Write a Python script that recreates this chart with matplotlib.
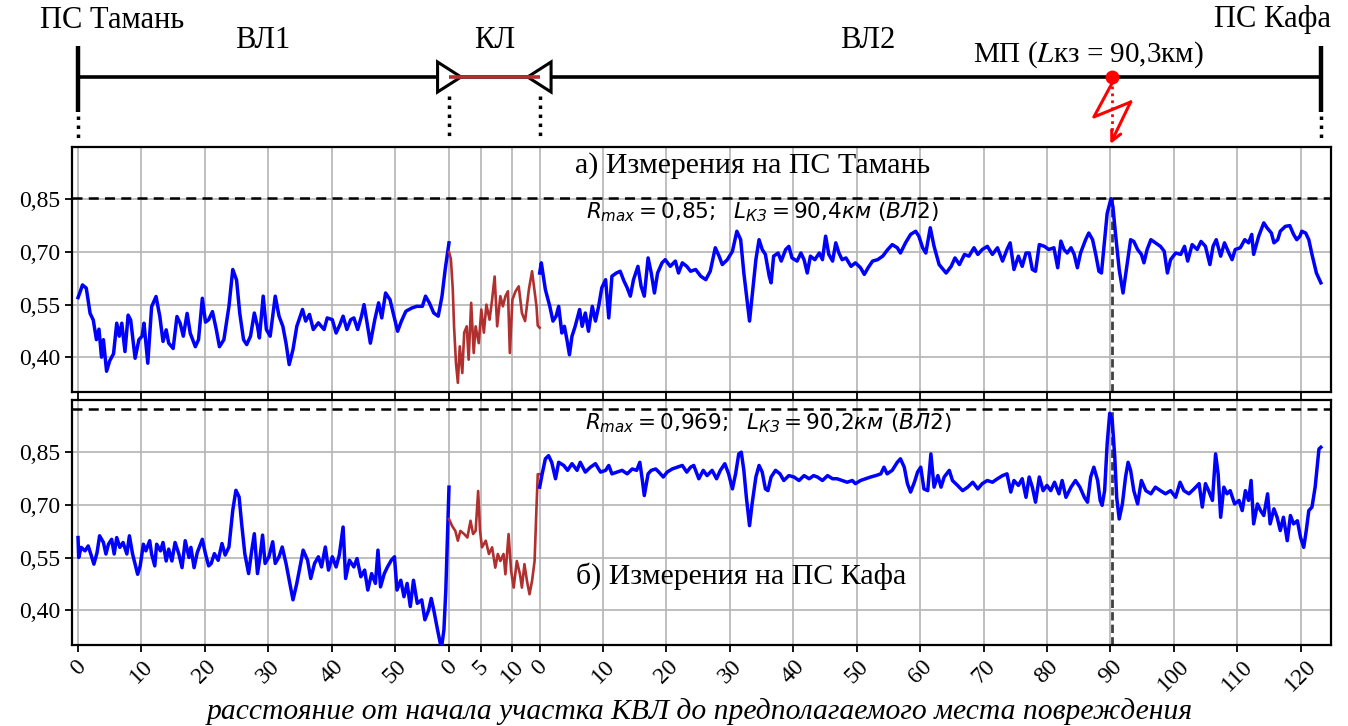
import matplotlib.pyplot as plt
from matplotlib.patches import Polygon

plt.rcParams['font.family'] = ['Liberation Serif', 'DejaVu Serif']

# section lengths, km
L_VL1 = 58.5
L_KL = 14.3
L_VL2 = 123.3
L_FAULT = 90.3

# a) measurements at PS Taman: (km from section start, R)
taman_vl1 = [(0.0, 0.57), (0.4, 0.59), (0.7, 0.606), (1.3, 0.597), (1.9, 0.525), (2.4, 0.506),
             (2.9, 0.45), (3.3, 0.48), (3.7, 0.40), (4.0, 0.45), (4.5, 0.36), (5.0, 0.39),
             (5.6, 0.41), (6.1, 0.497), (6.5, 0.46), (6.9, 0.497), (7.4, 0.416), (7.9, 0.52),
             (8.3, 0.506), (9.0, 0.397), (9.6, 0.45), (10.1, 0.46), (10.4, 0.497), (11.0, 0.383),
             (11.6, 0.544), (12.3, 0.573), (12.9, 0.516), (13.4, 0.445), (13.9, 0.478), (14.3, 0.44),
             (15.0, 0.425), (15.6, 0.516), (16.1, 0.497), (16.6, 0.46), (17.2, 0.525), (17.7, 0.468),
             (18.5, 0.43), (19.0, 0.45), (19.6, 0.568), (20.1, 0.50), (20.6, 0.507), (21.2, 0.53),
             (21.8, 0.479), (22.3, 0.43), (23.0, 0.45), (23.8, 0.545), (24.4, 0.65), (25.0, 0.62),
             (25.5, 0.526), (26.1, 0.45), (26.6, 0.436), (27.2, 0.46), (27.8, 0.526), (28.3, 0.488),
             (28.6, 0.455), (29.2, 0.574), (29.7, 0.479), (30.3, 0.46), (31.1, 0.574), (31.7, 0.517),
             (32.3, 0.488), (32.8, 0.44), (33.3, 0.379), (33.9, 0.422), (34.5, 0.488), (35.4, 0.536),
             (35.9, 0.503), (36.5, 0.522), (37.1, 0.479), (37.9, 0.498), (38.8, 0.479), (39.3, 0.512),
             (40.1, 0.507), (40.7, 0.469), (41.3, 0.493), (41.8, 0.517), (42.4, 0.479), (43.0, 0.507),
             (43.5, 0.512), (44.1, 0.479), (44.7, 0.517), (45.1, 0.55), (45.5, 0.507), (46.1, 0.44),
             (46.8, 0.507), (47.4, 0.555), (47.9, 0.512), (48.5, 0.583), (49.2, 0.564), (49.7, 0.526),
             (50.4, 0.474), (51.0, 0.503), (51.7, 0.531), (52.6, 0.54), (53.4, 0.545), (54.3, 0.545),
             (54.8, 0.574), (55.4, 0.555), (56.1, 0.526), (56.8, 0.517), (57.4, 0.574), (57.9, 0.65),
             (58.5, 0.726)]
taman_kl = [(0.0, 0.70), (0.3, 0.68), (0.6, 0.593), (0.8, 0.488), (1.1, 0.384), (1.4, 0.327),
            (1.7, 0.431), (2.1, 0.355), (2.4, 0.47), (2.8, 0.488), (3.1, 0.393), (3.5, 0.555),
            (3.9, 0.412), (4.2, 0.488), (4.7, 0.44), (5.1, 0.536), (5.5, 0.47), (5.9, 0.55),
            (6.4, 0.507), (6.8, 0.564), (7.2, 0.63), (7.6, 0.488), (8.1, 0.574), (8.5, 0.545),
            (8.9, 0.574), (9.3, 0.588), (9.6, 0.412), (10.0, 0.564), (10.5, 0.588), (11.0, 0.602),
            (11.5, 0.526), (12.0, 0.503), (12.6, 0.593), (13.1, 0.645), (13.8, 0.545), (14.0, 0.49),
            (14.3, 0.484)]
taman_vl2 = [(0.0, 0.64), (0.26, 0.669), (0.9, 0.593), (1.6, 0.545), (2.1, 0.503), (2.6, 0.517),
             (3.0, 0.545), (3.5, 0.469), (3.9, 0.488), (4.3, 0.45), (4.7, 0.407), (5.1, 0.46),
             (5.6, 0.488), (6.3, 0.536), (6.7, 0.488), (7.2, 0.526), (7.7, 0.474), (8.3, 0.545),
             (8.8, 0.503), (9.3, 0.545), (9.8, 0.598), (10.4, 0.621), (10.9, 0.512), (11.4, 0.631),
             (12.1, 0.64), (12.7, 0.645), (13.3, 0.617), (13.8, 0.598), (14.3, 0.574), (14.8, 0.621),
             (15.5, 0.659), (16.0, 0.602), (16.5, 0.574), (17.1, 0.683), (17.6, 0.64), (18.1, 0.583),
             (18.6, 0.64), (19.3, 0.669), (19.8, 0.678), (20.6, 0.659), (21.4, 0.674), (21.9, 0.64),
             (22.5, 0.669), (23.2, 0.659), (23.8, 0.645), (24.6, 0.65), (25.4, 0.631), (26.2, 0.621),
             (26.9, 0.645), (27.7, 0.712), (28.3, 0.688), (28.8, 0.664), (29.6, 0.678), (30.4, 0.702),
             (31.1, 0.759), (31.7, 0.735), (32.2, 0.64), (32.7, 0.564), (33.1, 0.503), (33.5, 0.574),
             (34.1, 0.678), (34.6, 0.735), (35.1, 0.707), (35.6, 0.693), (36.2, 0.631), (36.5, 0.612),
             (36.9, 0.688), (37.6, 0.697), (38.1, 0.674), (38.8, 0.707), (39.3, 0.716), (39.8, 0.683),
             (40.6, 0.674), (41.2, 0.697), (41.7, 0.678), (42.2, 0.64), (42.7, 0.688), (43.4, 0.678),
             (44.1, 0.697), (44.6, 0.678), (45.1, 0.745), (45.6, 0.693), (46.2, 0.674), (46.7, 0.726),
             (47.2, 0.697), (47.7, 0.678), (48.3, 0.683), (49.1, 0.659), (49.8, 0.669), (50.6, 0.655),
             (51.2, 0.636), (51.8, 0.655), (52.5, 0.674), (53.3, 0.678), (54.1, 0.688), (54.9, 0.707),
             (55.6, 0.721), (56.4, 0.712), (56.9, 0.697), (57.7, 0.726), (58.5, 0.75), (59.3, 0.759),
             (59.8, 0.745), (60.4, 0.712), (60.9, 0.697), (61.6, 0.769), (62.2, 0.716), (63.0, 0.664),
             (64.1, 0.64), (64.9, 0.659), (65.5, 0.683), (66.2, 0.664), (67.0, 0.693), (67.7, 0.688),
             (68.5, 0.712), (69.1, 0.693), (69.8, 0.707), (70.6, 0.716), (71.4, 0.693), (72.2, 0.712),
             (73.0, 0.674), (73.7, 0.707), (74.2, 0.726), (74.8, 0.65), (75.5, 0.688), (76.1, 0.659),
             (76.7, 0.697), (77.2, 0.697), (77.7, 0.65), (78.2, 0.645), (78.8, 0.721), (79.6, 0.716),
             (80.3, 0.707), (81.1, 0.712), (81.7, 0.655), (82.2, 0.731), (82.7, 0.707), (83.2, 0.697),
             (83.8, 0.712), (84.3, 0.693), (84.8, 0.655), (85.3, 0.697), (86.1, 0.735), (86.6, 0.754),
             (87.2, 0.735), (87.7, 0.693), (88.2, 0.645), (88.6, 0.64), (89.0, 0.716), (89.5, 0.81),
             (90.1, 0.852), (90.4, 0.83), (90.8, 0.754), (91.4, 0.65), (92.0, 0.583), (92.6, 0.659),
             (93.2, 0.735), (93.7, 0.73), (94.3, 0.707), (94.9, 0.693), (95.3, 0.669), (95.8, 0.707),
             (96.4, 0.735), (97.1, 0.726), (97.9, 0.716), (98.5, 0.702), (99.0, 0.64), (99.5, 0.678),
             (100.3, 0.697), (101.1, 0.693), (101.7, 0.716), (102.2, 0.674), (102.9, 0.721), (103.7, 0.707),
             (104.3, 0.73), (105.0, 0.716), (105.7, 0.664), (106.2, 0.716), (106.7, 0.735), (107.4, 0.688),
             (108.0, 0.726), (108.7, 0.697), (109.2, 0.678), (109.7, 0.707), (110.5, 0.712), (111.2, 0.735),
             (111.8, 0.726), (112.3, 0.75), (112.6, 0.693), (113.4, 0.745), (114.2, 0.783), (114.7, 0.769),
             (115.4, 0.754), (115.8, 0.726), (116.4, 0.735), (116.8, 0.759), (117.6, 0.773), (118.3, 0.775),
             (118.9, 0.75), (119.4, 0.735), (119.9, 0.745), (120.2, 0.759), (120.8, 0.754), (121.3, 0.735),
             (121.8, 0.693), (122.5, 0.64), (123.2, 0.612)]

# б) measurements at PS Kafa
kafa_vl1 = [(0.0, 0.607), (0.1, 0.55), (0.5, 0.579), (1.1, 0.569), (1.6, 0.583), (2.1, 0.555),
            (2.5, 0.531), (3.0, 0.564), (3.4, 0.612), (4.0, 0.593), (4.4, 0.56), (4.8, 0.588),
            (5.3, 0.602), (5.7, 0.56), (6.1, 0.607), (6.6, 0.579), (7.1, 0.593), (7.7, 0.56),
            (8.1, 0.612), (8.6, 0.56), (9.0, 0.531), (9.4, 0.502), (9.8, 0.526), (10.3, 0.588),
            (10.7, 0.569), (11.3, 0.598), (11.6, 0.56), (12.1, 0.526), (12.4, 0.588), (13.0, 0.569),
            (13.4, 0.593), (13.9, 0.54), (14.3, 0.574), (14.8, 0.54), (15.3, 0.593), (15.9, 0.56),
            (16.4, 0.521), (16.9, 0.598), (17.5, 0.55), (17.8, 0.579), (18.3, 0.521), (18.8, 0.564),
            (19.6, 0.602), (20.1, 0.56), (20.6, 0.526), (21.0, 0.533), (21.5, 0.561), (22.1, 0.542),
            (22.7, 0.59), (23.2, 0.557), (23.8, 0.58), (24.4, 0.685), (24.9, 0.742), (25.4, 0.723),
            (25.8, 0.647), (26.3, 0.561), (26.9, 0.504), (27.4, 0.571), (27.8, 0.618), (28.3, 0.504),
            (28.7, 0.552), (29.1, 0.614), (29.5, 0.533), (30.1, 0.552), (30.7, 0.595), (31.1, 0.533),
            (31.7, 0.552), (32.2, 0.58), (32.8, 0.533), (33.4, 0.476), (33.9, 0.429), (34.5, 0.476),
            (35.0, 0.523), (35.5, 0.571), (36.2, 0.542), (36.7, 0.49), (37.3, 0.533), (37.9, 0.552),
            (38.4, 0.523), (39.0, 0.58), (39.5, 0.514), (40.1, 0.552), (40.7, 0.523), (41.2, 0.557),
            (41.8, 0.637), (42.2, 0.49), (42.8, 0.542), (43.5, 0.523), (44.0, 0.547), (44.6, 0.495),
            (45.2, 0.514), (45.7, 0.457), (46.3, 0.504), (46.9, 0.476), (47.3, 0.571), (47.7, 0.466),
            (48.3, 0.504), (48.8, 0.523), (49.4, 0.542), (49.9, 0.552), (50.3, 0.457), (50.9, 0.485),
            (51.4, 0.438), (51.9, 0.476), (52.4, 0.41), (52.9, 0.485), (53.5, 0.419), (54.2, 0.429),
            (54.7, 0.372), (55.3, 0.40), (55.7, 0.433), (56.1, 0.40), (56.7, 0.343), (57.3, 0.29),
            (57.7, 0.343), (58.0, 0.457), (58.5, 0.751)]
kafa_kl = [(0.0, 0.66), (0.5, 0.64), (1.0, 0.626), (1.4, 0.598), (1.8, 0.626), (2.4, 0.617),
           (2.9, 0.607), (3.4, 0.655), (3.8, 0.617), (4.2, 0.626), (4.6, 0.74), (4.9, 0.626),
           (5.2, 0.579), (5.8, 0.598), (6.3, 0.56), (6.8, 0.579), (7.3, 0.521), (7.7, 0.56),
           (8.1, 0.54), (8.6, 0.56), (8.9, 0.502), (9.4, 0.617), (9.8, 0.512), (10.2, 0.464),
           (10.7, 0.54), (11.2, 0.502), (11.5, 0.464), (11.9, 0.531), (12.3, 0.483), (12.7, 0.445),
           (13.1, 0.483), (13.5, 0.54), (13.8, 0.693), (14.0, 0.788), (14.3, 0.788)]
kafa_vl2 = [(0.0, 0.751), (0.4, 0.789), (0.9, 0.832), (1.4, 0.841), (1.9, 0.822), (2.5, 0.775),
            (3.0, 0.822), (3.8, 0.813), (4.4, 0.799), (5.1, 0.818), (5.9, 0.799), (6.4, 0.822),
            (7.2, 0.794), (8.0, 0.808), (8.8, 0.818), (9.6, 0.794), (10.4, 0.799), (10.9, 0.813),
            (11.4, 0.789), (12.2, 0.794), (13.0, 0.799), (13.8, 0.789), (14.6, 0.803), (15.3, 0.799),
            (15.8, 0.822), (16.2, 0.77), (16.5, 0.727), (17.1, 0.789), (17.6, 0.799), (18.3, 0.803),
            (18.8, 0.794), (19.5, 0.78), (20.1, 0.794), (20.9, 0.803), (21.7, 0.808), (22.5, 0.813),
            (23.2, 0.794), (23.8, 0.808), (24.3, 0.813), (25.1, 0.775), (25.8, 0.799), (26.4, 0.784),
            (27.2, 0.799), (27.9, 0.775), (28.5, 0.799), (29.2, 0.818), (29.8, 0.789), (30.4, 0.746),
            (30.9, 0.789), (31.4, 0.846), (31.8, 0.851), (32.2, 0.799), (32.6, 0.722), (33.1, 0.641),
            (33.5, 0.703), (34.1, 0.78), (34.6, 0.813), (35.1, 0.794), (35.6, 0.746), (36.0, 0.741),
            (36.5, 0.78), (37.2, 0.799), (37.9, 0.789), (38.5, 0.77), (39.3, 0.784), (40.1, 0.78),
            (40.9, 0.77), (41.7, 0.784), (42.5, 0.775), (43.2, 0.784), (43.8, 0.78), (44.6, 0.77),
            (45.4, 0.784), (46.2, 0.775), (46.9, 0.775), (47.7, 0.77), (48.5, 0.765), (49.3, 0.77),
            (49.8, 0.761), (50.6, 0.77), (51.4, 0.775), (52.2, 0.78), (53.0, 0.784), (53.8, 0.789),
            (54.3, 0.808), (54.8, 0.789), (55.6, 0.799), (56.4, 0.822), (56.9, 0.832), (57.5, 0.808),
            (58.0, 0.761), (58.5, 0.737), (59.1, 0.765), (59.6, 0.794), (60.1, 0.808), (60.6, 0.746),
            (61.2, 0.741), (61.7, 0.846), (62.2, 0.751), (62.8, 0.784), (63.3, 0.751), (63.8, 0.78),
            (64.6, 0.799), (65.1, 0.77), (65.9, 0.756), (66.7, 0.741), (67.5, 0.751), (68.3, 0.765),
            (69.1, 0.746), (69.8, 0.761), (70.6, 0.77), (71.4, 0.765), (72.2, 0.775), (73.0, 0.784),
            (73.7, 0.789), (74.3, 0.737), (74.8, 0.77), (75.5, 0.756), (76.1, 0.775), (76.7, 0.722),
            (77.2, 0.78), (77.7, 0.751), (78.2, 0.708), (78.8, 0.78), (79.4, 0.741), (80.0, 0.756),
            (80.6, 0.741), (81.2, 0.765), (81.9, 0.732), (82.4, 0.77), (83.0, 0.722), (83.8, 0.751),
            (84.5, 0.77), (85.2, 0.751), (85.9, 0.722), (86.4, 0.708), (86.9, 0.78), (87.4, 0.808),
            (88.0, 0.77), (88.4, 0.713), (88.7, 0.699), (89.1, 0.741), (89.5, 0.875), (89.9, 0.962),
            (90.3, 0.941), (90.7, 0.837), (91.0, 0.722), (91.4, 0.66), (91.9, 0.703), (92.4, 0.78),
            (92.8, 0.822), (93.2, 0.799), (93.7, 0.741), (94.3, 0.703), (94.9, 0.77), (95.6, 0.741),
            (96.4, 0.732), (97.1, 0.751), (97.9, 0.741), (98.7, 0.732), (99.5, 0.741), (100.3, 0.722),
            (101.0, 0.765), (101.6, 0.741), (102.4, 0.732), (103.2, 0.746), (104.0, 0.761), (104.5, 0.694),
            (105.0, 0.761), (105.5, 0.741), (106.1, 0.713), (106.6, 0.846), (107.0, 0.789), (107.4, 0.665),
            (107.9, 0.751), (108.4, 0.732), (108.9, 0.741), (109.6, 0.703), (110.3, 0.713), (110.8, 0.684),
            (111.3, 0.741), (111.8, 0.713), (112.2, 0.77), (112.6, 0.646), (113.2, 0.703), (113.7, 0.684),
            (114.2, 0.67), (114.8, 0.732), (115.2, 0.646), (115.8, 0.689), (116.3, 0.665), (116.8, 0.627),
            (117.3, 0.665), (117.9, 0.598), (118.4, 0.67), (118.9, 0.646), (119.5, 0.655), (120.0, 0.607),
            (120.5, 0.579), (120.9, 0.627), (121.3, 0.684), (121.8, 0.694), (122.3, 0.751), (122.9, 0.86),
            (123.2, 0.865)]

rmax_a = 0.853
rmax_b = 0.974
yticks = [0.40, 0.55, 0.70, 0.85]
ytick_labels = ['0,40', '0,55', '0,70', '0,85']
vl1_ticks = [0, 10, 20, 30, 40, 50]
kl_ticks = [0, 5, 10]
vl2_ticks = [0, 10, 20, 30, 40, 50, 60, 70, 80, 90, 100, 110, 120]

blue = '#0000ff'
red = '#b03030'

off_kl = L_VL1
off_vl2 = L_VL1 + L_KL
x_end = off_vl2 + L_VL2
x_f = off_vl2 + L_FAULT


def seg(pairs, off):
    return [p[0] + off for p in pairs], [p[1] for p in pairs]


fig = plt.figure(figsize=(13.48, 7.26), dpi=100)
W, H = 1348, 726
left, right = 71.7 / W, 1331 / W
ax_a = fig.add_axes([left, 1 - 392.3 / H, right - left, (392.3 - 146.7) / H])
ax_b = fig.add_axes([left, 1 - 645 / H, right - left, (645 - 400) / H])
ax_s = fig.add_axes([left, 1 - 146.7 / H, right - left, 146.7 / H])

xt = [t for t in vl1_ticks] + [t + off_kl for t in kl_ticks] + [t + off_vl2 for t in vl2_ticks]
xl = [str(t) for t in vl1_ticks + kl_ticks + vl2_ticks]

for ax, d1, dk, d2, rmax in [(ax_a, taman_vl1, taman_kl, taman_vl2, rmax_a),
                             (ax_b, kafa_vl1, kafa_kl, kafa_vl2, rmax_b)]:
    x, y = seg(d1, 0)
    ax.plot(x, y, color=blue, lw=2.5, zorder=3)
    x, y = seg(dk, off_kl)
    ax.plot(x, y, color=red, lw=1.9, zorder=3)
    x, y = seg(d2, off_vl2)
    ax.plot(x, y, color=blue, lw=2.5, zorder=3)
    ax.axhline(rmax, color='k', lw=1.8, ls=(0, (4, 2.5)), zorder=4)
    ax.plot([x_f, x_f], [0.3, rmax], color='#404040', lw=2.0, ls=(0, (3, 1.5)), zorder=2)
    ax.set_xlim(-1.0, 197.6)
    ax.set_ylim(0.3, 1.0)
    ax.set_xticks(xt)
    ax.set_yticks(yticks)
    ax.set_yticklabels(ytick_labels)
    ax.grid(True, color='#b4b4b4', lw=1.2, zorder=0)
    ax.tick_params(direction='out', length=5, width=1.3, labelsize=17, pad=3)
    for s in ax.spines.values():
        s.set_linewidth(1.6)

ax_a.tick_params(labelbottom=False)
ax_b.set_xticklabels(xl, rotation=45, fontsize=17)

ax_a.text(106.3, 0.945, 'а) Измерения на ПС Тамань', ha='center', va='center', fontsize=21.5)
ax_b.text(104.5, 0.498, 'б) Измерения на ПС Кафа', ha='center', va='center', fontsize=21.5)
ax_a.text(107.9, 0.812, r'$R_{max} = 0{,}85;\ \ L_{КЗ} = 90{,}4км\ (ВЛ2)$', ha='center', va='center',
          fontsize=15.5, family='DejaVu Sans', math_fontfamily='dejavusans')
ax_b.text(108.8, 0.933, r'$R_{max} = 0{,}969;\ \ L_{КЗ} = 90{,}2км\ (ВЛ2)$', ha='center', va='center',
          fontsize=15.5, family='DejaVu Sans', math_fontfamily='dejavusans')

fig.text(700 / W, 1 - 712 / H, 'расстояние от начала участка КВЛ до предполагаемого места повреждения',
         ha='center', va='center', fontsize=21.3, style='italic')

# line scheme on top
ax_s.set_xlim(-1.0, 197.6)
ax_s.set_ylim(146.7, 0)
ax_s.axis('off')
ax_s.plot([0, x_end], [77, 77], color='k', lw=2.6, solid_capstyle='butt', zorder=2)
for xb in [0, x_end]:
    ax_s.plot([xb, xb], [46, 112], color='k', lw=3.2, solid_capstyle='butt')
    ax_s.plot([xb, xb], [116, 140], color='k', lw=2.5, ls=(0, (1, 1.6)))
ax_s.add_patch(Polygon([(off_kl - 1.8, 62), (off_kl - 1.8, 92), (off_kl + 1.9, 77)],
                       closed=True, fc='white', ec='k', lw=2.2, zorder=3))
ax_s.add_patch(Polygon([(off_vl2 + 1.8, 62), (off_vl2 + 1.8, 92), (off_vl2 - 1.9, 77)],
                       closed=True, fc='white', ec='k', lw=2.2, zorder=3))
ax_s.plot([off_kl, off_vl2], [77, 77], color=red, lw=2.6, solid_capstyle='butt', zorder=4)
for xb in [off_kl, off_vl2]:
    ax_s.plot([xb, xb], [96, 140], color='k', lw=2.5, ls=(0, (1, 1.6)))
ax_s.plot([x_f, x_f], [86, 140], color='red', lw=2.0, ls=(0, (1, 1.5)))
ax_s.plot([x_f - 0.1, x_f - 2.9, x_f + 2.9], [84, 117, 102], color='red', lw=2.2)
ax_s.annotate('', xy=(x_f - 0.3, 144), xytext=(x_f + 2.9, 102),
              arrowprops=dict(arrowstyle='->', color='red', lw=2.2, mutation_scale=18,
                              shrinkA=0, shrinkB=0))
ax_s.plot(x_f, 77, 'o', color='red', ms=9, zorder=5)

ax_s.text(-6.0, 20, 'ПС Тамань', ha='left', va='center', fontsize=22)
ax_s.text(29.1, 40, 'ВЛ1', ha='center', va='center', fontsize=22)
ax_s.text(65.7, 40, 'КЛ', ha='center', va='center', fontsize=22)
ax_s.text(124.5, 40, 'ВЛ2', ha='center', va='center', fontsize=22)
ax_s.text(159.4, 55, 'МП ($L$кз = 90,3км)', ha='center', va='center', fontsize=21,
          math_fontfamily='stix')
ax_s.text(197.6, 20, 'ПС Кафа', ha='right', va='center', fontsize=22)

fig.savefig('out.png', dpi=100)
